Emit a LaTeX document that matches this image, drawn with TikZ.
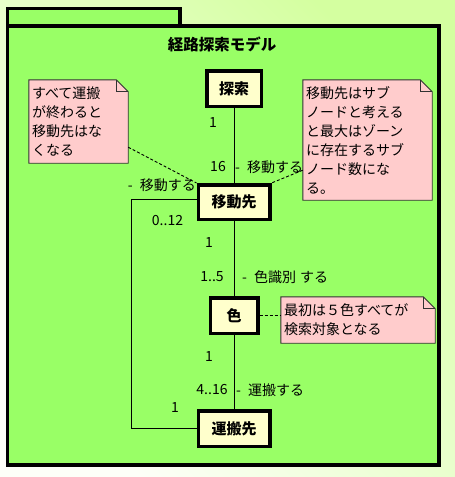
\documentclass[tikz,border=0pt]{standalone}
\usepackage{fontspec}
\setmainfont{Noto Sans CJK JP}
\usetikzlibrary{calc}
\definecolor{bgtop}{RGB}{212,255,160}
\definecolor{bgbot}{RGB}{253,255,248}
\definecolor{framefill}{RGB}{153,255,102}
\definecolor{boxfill}{RGB}{255,255,204}
\definecolor{notefill}{RGB}{255,204,204}
\definecolor{noteline}{RGB}{50,50,50}
\pgfdeclarelayer{bg}
\pgfdeclarelayer{notes}
\pgfsetlayers{bg,notes,main}
\newcommand{\rolegap}{\hspace{7pt}}
\begin{document}
\begin{tikzpicture}[x=1pt,y=-1pt,
  cls/.style={draw=black, line width=3.5pt, fill=boxfill, inner sep=0pt,
    font=\fontsize{15}{18}\selectfont\bfseries},
  lbl/.style={inner sep=0pt, font=\fontsize{14}{16}\selectfont},
  notebox/.style={inner sep=3pt, align=left, font=\fontsize{14}{19}\selectfont},
  noteshape/.style={draw=noteline, line width=0.9pt, fill=notefill},
  assoc/.style={draw=black, line width=0.9pt},
  anchorline/.style={draw=black, line width=0.9pt, dash pattern=on 3pt off 2pt},
  frameline/.style={draw=black, line width=3.5pt, fill=framefill}
]
\useasboundingbox (0,0) rectangle (455,477);
\begin{pgfonlayer}{bg}
  \shade[top color=bgtop, bottom color=bgbot, shading angle=-45] (0,0) rectangle (455,477);
  \path[frameline] (7.5,8.5) rectangle (180,26);
  \path[frameline] (7.5,26) rectangle (439,465);
\end{pgfonlayer}

\node[font=\fontsize{15.5}{18}\selectfont\bfseries] (title) at (222,44) {経路探索モデル};

% classes
\node[cls, minimum width=54.5pt, minimum height=35.5pt] (tansaku) at (234,88.5) {探索};
\node[cls, minimum width=71.5pt, minimum height=34.5pt] (idou) at (234,202) {移動先};
\node[cls, minimum width=47.5pt, minimum height=35.5pt] (iro) at (234,315.5) {色};
\node[cls, minimum width=71.5pt, minimum height=35.5pt] (unpan) at (234,428.5) {運搬先};

% notes
\node[notebox, minimum width=99pt, minimum height=83pt, text width=93pt] (n1) at (78.5,121.5)
  {すべて運搬\\が終わると\\移動先はな\\くなる};
\node[notebox, minimum width=129pt, minimum height=120pt, text width=123pt] (n2) at (367.5,140)
  {移動先はサブ\\ノードと考える\\と最大はゾーン\\に存在するサブ\\ノード数にな\\る。};
\node[notebox, minimum width=154pt, minimum height=46pt, text width=148pt] (n3) at (358,320)
  {最初は５色すべてが\\検索対象となる};
\begin{pgfonlayer}{notes}
  \foreach \n in {n1,n2,n3}{
    \path[noteshape] (\n.north west) -- ($(\n.north east)+(-12,0)$) -- ($(\n.north east)+(0,12)$)
      -- (\n.south east) -- (\n.south west) -- cycle;
    \draw[noteline, line width=0.9pt] ($(\n.north east)+(-12,0)$) -- ($(\n.north east)+(-12,12)$) -- ($(\n.north east)+(0,12)$);
  }
\end{pgfonlayer}

% associations
\draw[assoc] (tansaku) -- (idou);
\draw[assoc] (idou) -- (iro);
\draw[assoc] (iro) -- (unpan);
\coordinate (la) at (131,199);
\coordinate (lb) at (131,428);
\draw[assoc] (idou.west |- la) -- (la) -- (lb) -- (unpan.west |- lb);

% note anchors
\draw[anchorline] ($(n1.south east)+(0,-16)$) -- (idou.north west);
\draw[anchorline] ($(n2.south west)+(0,-30)$) -- (idou.north east);
\draw[anchorline] (iro.east) -- (n3.west |- iro.east);

% labels
\node[lbl] (m1) at (213,123) {1};
\node[lbl] (m2) at (218,167) {16};
\node[lbl, anchor=west] (r1) at (235,167) {-\rolegap 移動する};
\node[lbl, anchor=east] (r2) at (196,185) {-\rolegap 移動する};
\node[lbl] (m3) at (167.5,221) {0..12};
\node[lbl] (m4) at (209,243) {1};
\node[lbl] (m5) at (212,277) {1..5};
\node[lbl, anchor=west] (r3) at (242,277) {-\rolegap 色識別\hspace{1pt} する};
\node[lbl] (m6) at (209,357) {1};
\node[lbl] (m7) at (212,390) {4..16};
\node[lbl, anchor=west] (r4) at (236,390) {-\rolegap 運搬する};
\node[lbl] (m8) at (175,408) {1};
\end{tikzpicture}
\end{document}
